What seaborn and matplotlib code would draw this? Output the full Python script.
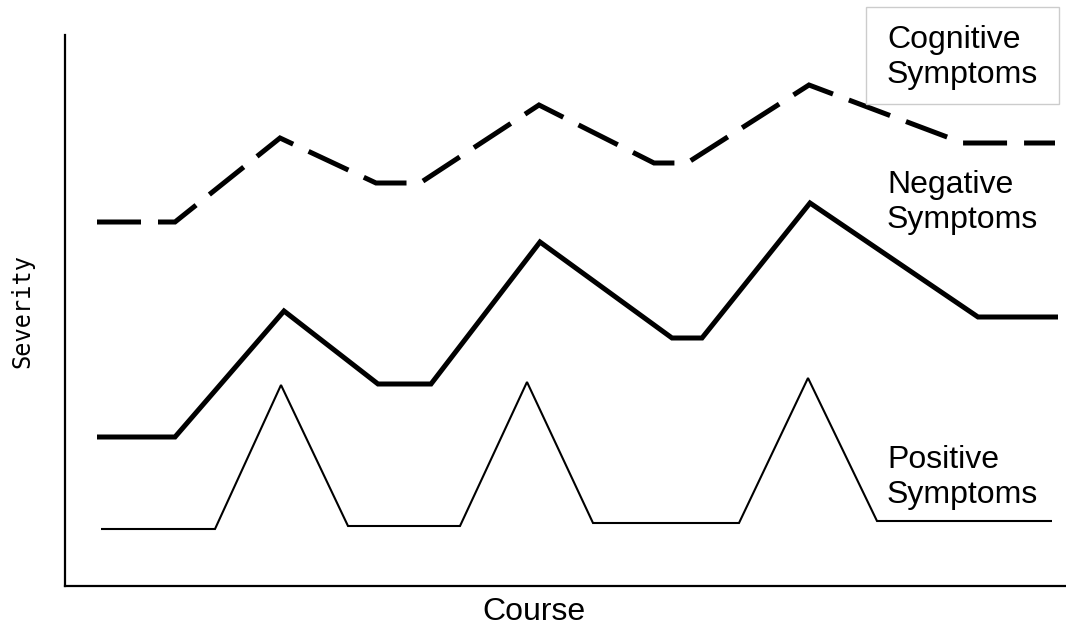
import matplotlib
matplotlib.use("Agg")
import matplotlib.pyplot as plt
from matplotlib.patches import Rectangle
import seaborn as sns

# Course position (arbitrary units) and severity (arbitrary units)
cog_x = [32, 110, 215, 311, 355, 474, 589, 622, 744, 898, 990]
cog_y = [364, 364, 448, 403, 403, 481, 423, 423, 501, 443, 443]

neg_x = [32, 110, 219, 313, 366, 475, 607, 637, 745, 913, 993]
neg_y = [149, 149, 275, 202, 202, 344, 248, 248, 383, 269, 269]

pos_x = [36, 150, 216, 283, 395, 462, 528, 674, 743, 812, 987]
pos_y = [57, 57, 201, 60, 60, 204, 63, 63, 208, 65, 65]

labels = ["Cognitive\nSymptoms", "Negative\nSymptoms", "Positive\nSymptoms"]
label_x = 822
label_y = [503, 358, 83]

sns.set_style("white")
plt.rcParams['font.family'] = ['Liberation Sans', 'DejaVu Sans']
plt.rcParams['text.color'] = 'black'

fig = plt.figure(figsize=(10.66, 6.29), dpi=100)
ax = fig.add_axes([65/1066, 43/629, 1001/1066, 551/629])

sns.lineplot(x=cog_x, y=cog_y, ax=ax, color="black", lw=3.6, sort=False,
             linestyle=(0, (8.8, 3.4)), dash_capstyle="butt", dash_joinstyle="miter")
sns.lineplot(x=neg_x, y=neg_y, ax=ax, color="black", lw=3.6, sort=False,
             solid_capstyle="butt", solid_joinstyle="miter")
sns.lineplot(x=pos_x, y=pos_y, ax=ax, color="black", lw=1.5, sort=False,
             solid_capstyle="butt", solid_joinstyle="miter")

ax.set_xlim(0, 1001)
ax.set_ylim(0, 551)
ax.set_xticks([])
ax.set_yticks([])
ax.set_xlabel("")
ax.set_ylabel("")
for s in ["top", "right"]:
    ax.spines[s].set_visible(False)
for s in ["left", "bottom"]:
    ax.spines[s].set_color("black")
    ax.spines[s].set_linewidth(1.6)

for lab, ly in zip(labels, label_y):
    ax.text(label_x, ly, lab, fontsize=23, ha="left", va="baseline",
            color="black", clip_on=False)

fig.add_artist(Rectangle((866/1066, 1 - 104/629), 193/1066, 97/629,
                         transform=fig.transFigure, facecolor="none",
                         edgecolor="#cccccc", lw=1))

fig.text(534/1066, 1 - 620/629, "Course", fontsize=23, ha="center",
         va="baseline", color="black")
fig.text(22/1066, 1 - 311/629, "Severity", fontsize=17, rotation=90,
         ha="center", va="center", family="DejaVu Sans Mono", color="black")

fig.savefig("out.png", dpi=100, facecolor="white")
